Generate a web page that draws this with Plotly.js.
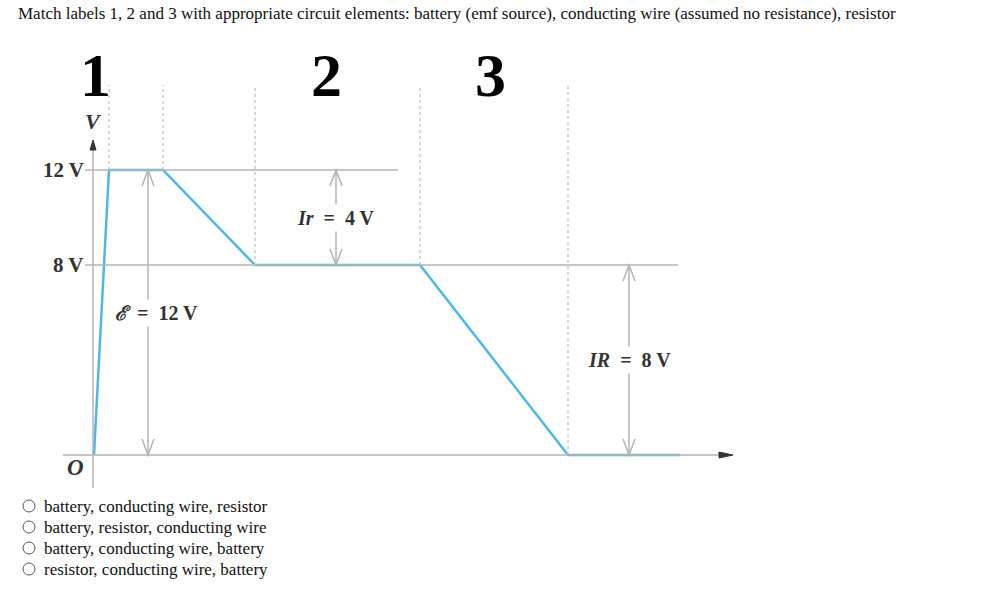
<!DOCTYPE html>
<html><head><meta charset="utf-8">
<script src="https://cdn.plot.ly/plotly-3.0.1.min.js"></script>
<style>html,body{margin:0;padding:0;background:#fff;}#chart{width:1008px;height:601px;}</style>
</head><body><div id="chart"></div>
<script>
// ---- data ----
var circuitPos = [1, 16, 70, 162, 327, 475, 587];       // position along circuit
var potential  = [0, 12, 12, 8, 8, 0, 0];               // potential V (volts)
var tickVals   = [12, 8];
var tickText   = ['12 V', '8 V'];
var elementLabels = ['1', '2', '3'];
var elementLabelPos = [2, 233, 397];
var boundaryPos = [16, 70, 162, 327, 475];
var boundaryTop = [12, 12, 8, 8, 0];
var drops = [
  {x: 55,  lo: 0, hi: 12, text: '<i>ℰ</i>&nbsp;&nbsp;=&nbsp;&nbsp;12 V', tx: 63},
  {x: 243, lo: 8, hi: 12, text: '<i>Ir</i>&nbsp;&nbsp;=&nbsp;&nbsp;4 V', tx: 243},
  {x: 536, lo: 0, hi: 8,  text: '<i>IR</i>&nbsp;&nbsp;=&nbsp;&nbsp;8 V', tx: 536}
];
var question = 'Match labels 1, 2 and 3 with appropriate circuit elements: battery (emf source), conducting wire (assumed no resistance), resistor';
var choices = [
  'battery, conducting wire, resistor',
  'battery, resistor, conducting wire',
  'battery, conducting wire, battery',
  'resistor, conducting wire, battery'
];

// ---- layout helpers ----
var W = 1008, H = 601;
var k = 23.75, y0px = 455;           // pixels per volt, pixel row of 0 V
function vAt(p){ return (y0px - p) / k; }
function px(p){ return p / W; }
function py(p){ return 1 - p / H; }
var gray = '#b4b4b4';
var serif = 'Liberation Serif, Times New Roman, serif';
var labelColor = '#333333';

var shapes = [], ann = [];

// axes
shapes.push({type:'line', xref:'x', yref:'y', x0:0, x1:0, y0:vAt(488), y1:vAt(146), line:{color:gray, width:1.5}});
shapes.push({type:'line', xref:'x', yref:'y', x0:-30, x1:628, y0:0, y1:0, line:{color:gray, width:1.5}});
// arrow heads of axes
shapes.push({type:'path', xref:'x', yref:'y', xsizemode:'pixel', ysizemode:'pixel', xanchor:0, yanchor:vAt(140),
  path:'M -3 -10 L 0 0 L 3 -10 Z', fillcolor:'#333', line:{color:'#333', width:1}});
shapes.push({type:'path', xref:'x', yref:'y', xsizemode:'pixel', ysizemode:'pixel', xanchor:640, yanchor:0,
  path:'M -14 -3 L 0 0 L -14 3 Z', fillcolor:'#333', line:{color:'#333', width:1}});

// level lines
shapes.push({type:'line', xref:'x', yref:'y', x0:-8, x1:305, y0:12, y1:12, line:{color:gray, width:1.5}});
shapes.push({type:'line', xref:'x', yref:'y', x0:-8, x1:585, y0:8, y1:8, line:{color:gray, width:1.5}});

// boundary dotted lines
for (var i=0;i<boundaryPos.length;i++){
  shapes.push({type:'line', xref:'x', yref:'y', x0:boundaryPos[i], x1:boundaryPos[i], y0:boundaryTop[i], y1:vAt(85),
    line:{color:'#c4c4c4', width:1.3, dash:'dot'}});
}

// potential drops (double arrows)
drops.forEach(function(d){
  shapes.push({type:'line', xref:'x', yref:'y', x0:d.x, x1:d.x, y0:d.lo, y1:d.hi, line:{color:gray, width:1.5}});
  shapes.push({type:'path', xref:'x', yref:'y', xsizemode:'pixel', ysizemode:'pixel', xanchor:d.x, yanchor:d.hi,
    path:'M -6 -16 L 0 0 L 6 -16', line:{color:gray, width:1.5}});
  shapes.push({type:'path', xref:'x', yref:'y', xsizemode:'pixel', ysizemode:'pixel', xanchor:d.x, yanchor:d.lo,
    path:'M -6 16 L 0 0 L 6 16', line:{color:gray, width:1.5}});
  ann.push({xref:'x', yref:'y', x:d.tx, y:(d.lo+d.hi)/2, text:'<b>'+d.text+'</b>', showarrow:false,
    font:{family:serif, size:20, color:labelColor}, bgcolor:'#ffffff', borderpad:2});
});

// tick labels
for (var j=0;j<tickVals.length;j++){
  ann.push({xref:'x', yref:'y', x:-7, y:tickVals[j], xanchor:'right', text:'<b>'+tickText[j]+'</b>', showarrow:false,
    font:{family:serif, size:21, color:labelColor}});
}
ann.push({xref:'x', yref:'y', x:-18, y:vAt(467), text:'<b><i>O</i></b>', showarrow:false, font:{family:serif, size:23, color:labelColor}});
ann.push({xref:'x', yref:'y', x:0, y:vAt(121), text:'<b><i>V</i></b>', showarrow:false, font:{family:serif, size:22, color:labelColor}});

// element labels 1 2 3
for (var m=0;m<elementLabels.length;m++){
  ann.push({xref:'x', yref:'y', x:elementLabelPos[m], y:vAt(75), text:'<b>'+elementLabels[m]+'</b>', showarrow:false,
    font:{family:serif, size:62, color:'#000'}});
}

// question text
ann.push({xref:'paper', yref:'paper', x:px(16), y:py(14), xanchor:'left', yanchor:'middle', text:question, showarrow:false,
  font:{family:serif, size:17, color:'#111'}});

// choices
for (var c=0;c<choices.length;c++){
  var cy = 506 + c*21;
  shapes.push({type:'circle', xref:'paper', yref:'paper', x0:px(23), x1:px(35), y0:py(cy-6), y1:py(cy+6), line:{color:'#555', width:1}});
  ann.push({xref:'paper', yref:'paper', x:px(42), y:py(cy), xanchor:'left', yanchor:'middle', text:choices[c], showarrow:false,
    font:{family:serif, size:17, color:'#111'}});
}

var trace = {x:circuitPos, y:potential, mode:'lines', line:{color:'#4db8e2', width:2.5}, hoverinfo:'skip', showlegend:false};

var layout = {
  width:W, height:H, margin:{l:0,r:0,t:0,b:0},
  paper_bgcolor:'#fff', plot_bgcolor:'#fff',
  xaxis:{range:[-93, W-93], visible:false, fixedrange:true},
  yaxis:{range:[vAt(H), vAt(0)], visible:false, fixedrange:true},
  shapes:shapes, annotations:ann, showlegend:false
};
Plotly.newPlot('chart', [trace], layout, {displayModeBar:false, staticPlot:true});
</script></body></html>
